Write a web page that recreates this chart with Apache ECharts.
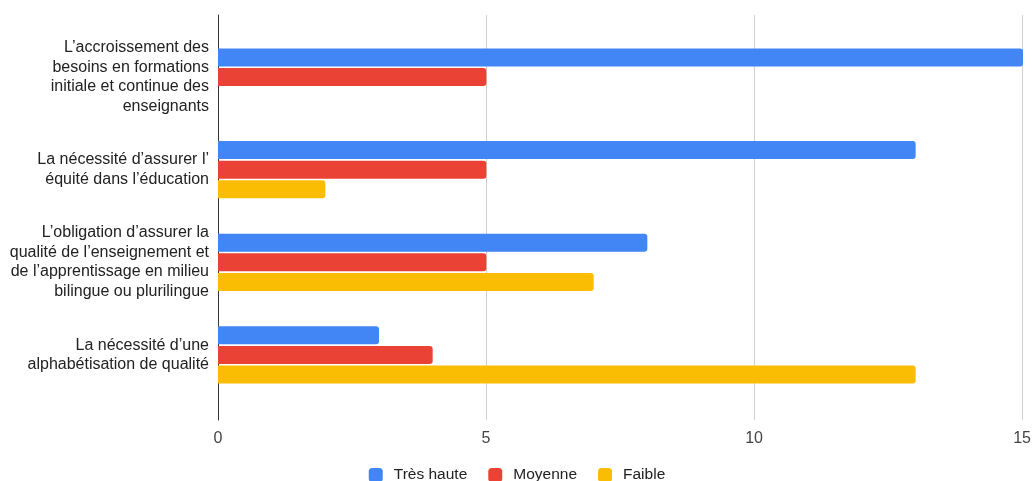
<!DOCTYPE html>
<html>
<head>
<meta charset="utf-8">
<script src="https://cdn.jsdelivr.net/npm/echarts@6/dist/echarts.min.js"></script>
<style>html,body{margin:0;padding:0;background:#fff;}#c{width:1034px;height:481px;}</style>
</head>
<body>
<div id="c"></div>
<script>
const categories = [
  "L’accroissement des\nbesoins en formations\ninitiale et continue des\nenseignants",
  "La nécessité d’assurer l’\néquité dans l’éducation",
  "L’obligation d’assurer la\nqualité de l’enseignement et\nde l’apprentissage en milieu\nbilingue ou plurilingue",
  "La nécessité d’une\nalphabétisation de qualité"
];
const seriesNames = ["Très haute", "Moyenne", "Faible"];
const tresHaute = [15, 13, 8, 3];
const moyenne = [5, 5, 5, 4];
const faible = [0, 2, 7, 13];
const xTicks = [0, 5, 10, 15];
const colors = ["#4285F4", "#EA4335", "#FBBC04"];

const font = "'Liberation Sans', Arial, sans-serif";
const chart = echarts.init(document.getElementById('c'), null, {renderer: 'canvas'});
const dataSets = [tresHaute, moyenne, faible];
chart.setOption({
  animation: false,
  color: colors,
  textStyle: {fontFamily: font},
  legend: {
    top: 462, left: 'center',
    itemWidth: 14, itemHeight: 14, itemGap: 21,
    icon: 'roundRect',
    textStyle: {fontSize: 15.5, color: '#222', fontFamily: font, padding: [0, 0, 0, 6]},
    data: seriesNames
  },
  grid: [
    {left: 218, right: 11, top: 15, bottom: 61, containLabel: false},
    {left: 218, right: 11, top: 30.7, bottom: 79.7, containLabel: false}
  ],
  xAxis: [
    {gridIndex: 0, type: 'value', min: xTicks[0], max: xTicks[xTicks.length-1], interval: 5,
     axisLine: {show: false}, axisTick: {show: false},
     splitLine: {show: true, lineStyle: {color: '#d0d0d0', width: 1}},
     axisLabel: {fontSize: 16, color: '#444', margin: 11, fontFamily: font}},
    {gridIndex: 1, type: 'value', min: xTicks[0], max: xTicks[xTicks.length-1], interval: 5,
     show: false, splitLine: {show: false}}
  ],
  yAxis: [
    {gridIndex: 0, type: 'category', data: [''],
     axisLine: {show: true, lineStyle: {color: '#333', width: 1}},
     axisTick: {show: false}, axisLabel: {show: false}, splitLine: {show: false}},
    {gridIndex: 1, type: 'category', data: categories, inverse: true,
     axisLine: {show: false}, axisTick: {show: false},
     axisLabel: {fontSize: 16, color: '#222', margin: 9, lineHeight: 19.5, align: 'right', fontFamily: font}}
  ],
  series: seriesNames.map((n, i) => ({
    name: n, type: 'bar', xAxisIndex: 1, yAxisIndex: 1,
    data: dataSets[i],
    barWidth: 18, barGap: '9%',
    itemStyle: {color: colors[i], borderRadius: [0, 3, 3, 0]}
  }))
});
</script>
</body>
</html>
